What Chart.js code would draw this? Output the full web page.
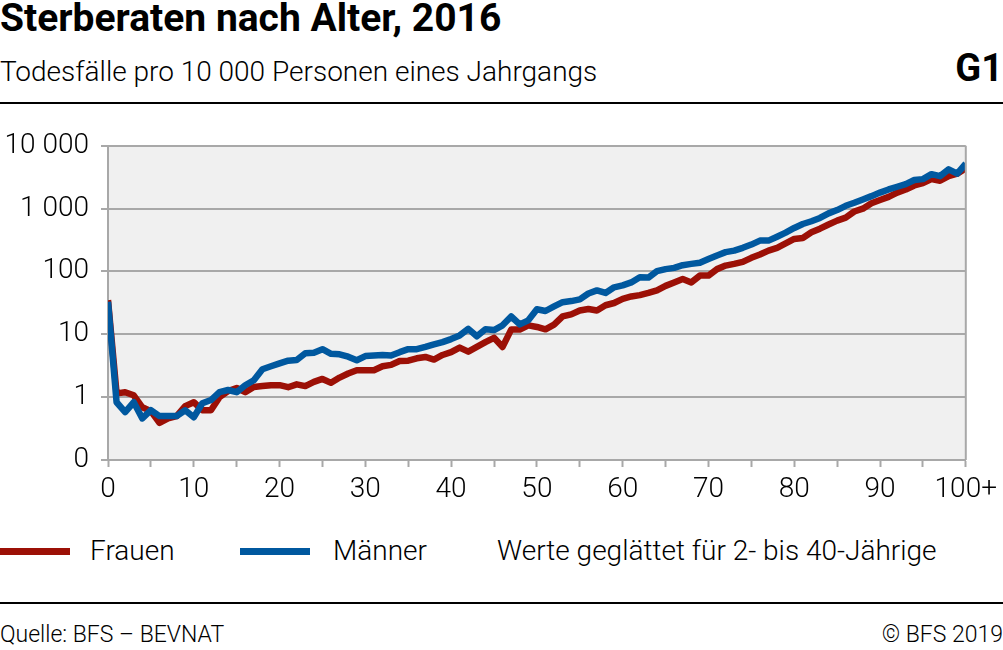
<!DOCTYPE html>
<html lang="de">
<head>
<meta charset="utf-8">
<script src="https://cdn.jsdelivr.net/npm/chart.js@4/dist/chart.umd.min.js"></script>
<style>
  html, body { margin: 0; padding: 0; background: #fff; }
  body { width: 1003px; height: 650px; position: relative; overflow: hidden; font-family: Roboto, "Liberation Sans", sans-serif; color: #000; }
  .abs { position: absolute; white-space: nowrap; }
  #title { left: 0; top: -3px; font-size: 39px; font-weight: 700; line-height: 42px; }
  #subtitle { left: 0; top: 56px; font-size: 28px; font-weight: 300; line-height: 32px; }
  #gnum { right: 0; top: 48px; font-size: 38px; font-weight: 700; line-height: 40px; }
  .rule { position: absolute; left: 0; width: 1003px; height: 2px; background: #000; }
  #chartBox { position: absolute; left: 0; top: 117px; width: 1003px; height: 398px; }
  .leg-line { position: absolute; height: 7px; top: 548px; }
  .leg-text { top: 535px; font-size: 28px; font-weight: 300; line-height: 32px; }
  #source, #copy { top: 621px; font-size: 23px; font-weight: 300; line-height: 28px; }
  #copy { right: 0; }
</style>
</head>
<body>
<div id="title" class="abs">Sterberaten nach Alter, 2016</div>
<div id="subtitle" class="abs">Todesfälle pro 10 000 Personen eines Jahrgangs</div>
<div id="gnum" class="abs">G1</div>
<div class="rule" style="top:102px"></div>

<div id="chartBox"><canvas id="deathChart"></canvas></div>

<div class="leg-line" style="left:0; width:70px; background:#9c1006"></div>
<div class="abs leg-text" style="left:90px">Frauen</div>
<div class="leg-line" style="left:240px; width:70px; background:#00589f"></div>
<div class="abs leg-text" style="left:333px">Männer</div>
<div class="abs leg-text" style="left:497px">Werte geglättet für 2- bis 40-Jährige</div>

<div class="rule" style="top:602px"></div>
<div id="source" class="abs" style="left:0">Quelle: BFS – BEVNAT</div>
<div id="copy" class="abs">© BFS 2019</div>

<script>
// ================== DATEN ==================

// Alter 0 bis 100+ (Jahre)
const ages = Array.from({ length: 101 }, (_, i) => i);

// Todesfälle pro 10 000 Personen, Frauen
const frauen = [
    35, 1.15, 1.2, 1.07, 0.69, 0.6, 0.39, 0.46, 0.5, 0.72,
    0.83, 0.62, 0.62, 1.0, 1.25, 1.4, 1.2, 1.45, 1.5, 1.55,
    1.55, 1.44, 1.6, 1.5, 1.75, 1.95, 1.69, 2.05, 2.38, 2.68,
    2.68, 2.68, 3.1, 3.26, 3.77, 3.8, 4.15, 4.36, 3.97, 4.69,
    5.2, 6.15, 5.3, 6.3, 7.5, 8.8, 6.3, 11.9, 11.9, 13.9,
    13.1, 12, 14.3, 19.3, 20.8, 24, 25.3, 24, 29, 31.5,
    36.7, 40, 42, 45.5, 50, 59, 67, 76, 67, 86,
    86, 109, 124, 132, 142, 165, 186, 215, 238, 280,
    330, 342, 420, 480, 560, 645, 720, 900, 1000, 1220,
    1370, 1540, 1800, 2020, 2340, 2550, 2950, 2780, 3300, 3600,
    4400
];

// Todesfälle pro 10 000 Personen, Männer
const maenner = [
    33, 0.83, 0.58, 0.83, 0.46, 0.62, 0.5, 0.5, 0.5, 0.62,
    0.48, 0.8, 0.9, 1.2, 1.3, 1.2, 1.55, 1.86, 2.78, 3.1,
    3.45, 3.8, 3.9, 5.0, 5.1, 5.8, 4.9, 4.8, 4.4, 3.87,
    4.5, 4.6, 4.7, 4.6, 5.2, 5.8, 5.8, 6.3, 6.9, 7.5,
    8.4, 9.6, 12.2, 9.3, 12, 11.7, 13.9, 19.2, 14.4, 16.7,
    25, 23.5, 27.8, 32.5, 33.8, 36, 44.7, 50, 45.5, 56,
    60, 67, 81, 80, 101, 109, 114, 126, 132, 138,
    158, 180, 203, 215, 238, 268, 310, 310, 358, 415,
    493, 570, 630, 710, 840, 950, 1110, 1240, 1400, 1580,
    1800, 2020, 2230, 2460, 2850, 2950, 3540, 3290, 4210, 3600,
    5200
];

// Achsenbeschriftungen
const yTicks = [0.1, 1, 10, 100, 1000, 10000];
const xTickLabels = ['0', '10', '20', '30', '40', '50', '60', '70', '80', '90', '100+'];

// ================== GRAFIK ==================

const RED = '#9c1006';
const BLUE = '#00589f';
const GRID = '#a8a8a8';
const TICK_FONT = { family: 'Roboto', size: 28, weight: '300' };

const toPoints = values => values.map((v, i) => ({ x: ages[i], y: v }));

const formatThousands = value => String(value).replace(/\B(?=(\d{3})+(?!\d))/g, ' ');

// Hintergrund und rechter Rahmen der Zeichenfläche
const plotArea = {
    id: 'plotArea',
    beforeDraw(chart) {
        const { ctx, chartArea: a } = chart;
        ctx.save();
        ctx.fillStyle = '#f0f0f0';
        ctx.fillRect(a.left, a.top, a.right - a.left, a.bottom - a.top);
        ctx.restore();
    },
    afterDatasetsDraw(chart) {
        const { ctx, chartArea: a } = chart;
        ctx.save();
        ctx.strokeStyle = GRID;
        ctx.lineWidth = 2;
        ctx.beginPath();
        ctx.moveTo(a.right, a.top);
        ctx.lineTo(a.right, a.bottom);
        ctx.stroke();
        ctx.restore();
    }
};

const ctx = document.getElementById('deathChart').getContext('2d');
new Chart(ctx, {
    type: 'line',
    data: {
        datasets: [
            {
                label: 'Männer',
                data: toPoints(maenner),
                borderColor: BLUE,
                borderWidth: 6.5,
                order: 0
            },
            {
                label: 'Frauen',
                data: toPoints(frauen),
                borderColor: RED,
                borderWidth: 6.5,
                order: 1
            }
        ]
    },
    options: {
        responsive: true,
        maintainAspectRatio: false,
        animation: false,
        events: [],
        layout: { padding: { top: 20, right: 34, left: 0, bottom: 0 } },
        elements: {
            point: { radius: 0 },
            line: { tension: 0, borderJoinStyle: 'round', borderCapStyle: 'butt', fill: false }
        },
        plugins: {
            legend: { display: false },
            tooltip: { enabled: false }
        },
        scales: {
            x: {
                type: 'linear',
                min: 0,
                max: 100,
                afterFit: scale => { scale.height = 55; },
                ticks: {
                    stepSize: 5,
                    autoSkip: false,
                    maxRotation: 0,
                    color: '#000',
                    padding: 6,
                    font: TICK_FONT,
                    callback: value => value % 10 === 0 ? xTickLabels[value / 10] : ''
                },
                grid: {
                    drawOnChartArea: false,
                    drawTicks: true,
                    tickLength: 7,
                    tickColor: GRID,
                    tickWidth: 2
                },
                border: { color: GRID, width: 2 }
            },
            y: {
                type: 'logarithmic',
                min: 0.1,
                max: 10000,
                afterFit: scale => { scale.width = 108; },
                afterBuildTicks: scale => {
                    scale.ticks = yTicks.map(v => ({ value: v }));
                },
                ticks: {
                    color: '#000',
                    padding: 12,
                    font: TICK_FONT,
                    callback: value => value < 1 ? '0' : formatThousands(value)
                },
                grid: {
                    color: GRID,
                    lineWidth: 2,
                    tickLength: 7,
                    tickColor: GRID
                },
                border: { color: GRID, width: 2 }
            }
        }
    },
    plugins: [plotArea]
});
</script>
</body>
</html>
